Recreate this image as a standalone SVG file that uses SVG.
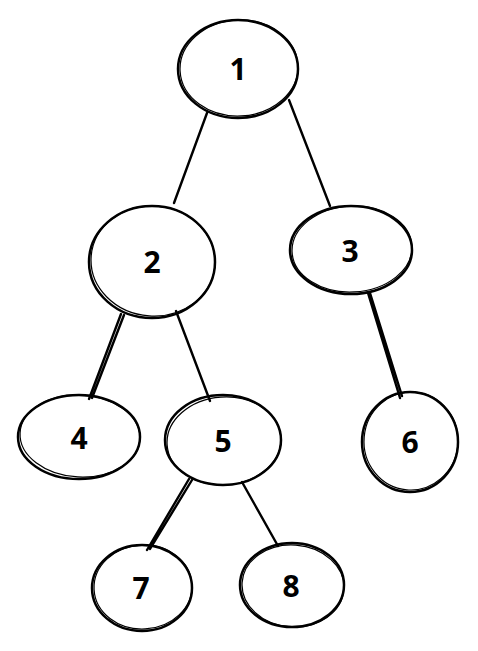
<svg xmlns="http://www.w3.org/2000/svg" width="478" height="651" viewBox="0 0 478 651">
<style>
.n{fill:none;stroke:#000;stroke-width:2.5}
.n2{fill:none;stroke:#000;stroke-width:1.2}
.e{stroke:#000;stroke-width:2.4;fill:none;stroke-linecap:round}
.t{font-family:"Open Sans","Liberation Sans",sans-serif;font-weight:bold;font-size:30px;text-anchor:middle;fill:#000}
</style>
<rect width="478" height="651" fill="#fff"/>
<g id="connectors">
<path class="e" d="M207,113 L174,203"/>
<path class="e" d="M289,100 L330,206"/>
<path class="e" d="M121,314 L89,399 M124,315 L92,398"/>
<path class="e" d="M176,311 L210,401"/>
<path class="e" d="M368,293 L400,398 M370,293 L402,396"/>
<path class="e" d="M189,479 L147,550 M192,480 L150,549"/>
<path class="e" d="M242,482 L278,546"/>
</g>
<g id="node1"><ellipse class="n" cx="238" cy="69" rx="60" ry="49"/><ellipse class="n2" cx="239" cy="68" rx="59" ry="48" transform="rotate(-3 239 68)"/><text class="t" x="238" y="80">1</text></g>
<g id="node2"><ellipse class="n" cx="152" cy="262" rx="63" ry="56"/><ellipse class="n2" cx="153" cy="261" rx="62" ry="55" transform="rotate(4 153 261)"/><text class="t" x="152" y="273">2</text></g>
<g id="node3"><ellipse class="n" cx="351" cy="250" rx="61" ry="44"/><ellipse class="n2" cx="352" cy="249" rx="60" ry="43" transform="rotate(-3 352 249)"/><text class="t" x="350" y="262">3</text></g>
<g id="node4"><ellipse class="n" cx="79" cy="437" rx="61" ry="42"/><ellipse class="n2" cx="80" cy="436" rx="60" ry="41" transform="rotate(3 80 436)"/><text class="t" x="79" y="449">4</text></g>
<g id="node5"><ellipse class="n" cx="223" cy="440" rx="58" ry="45"/><ellipse class="n2" cx="224" cy="441" rx="57" ry="44" transform="rotate(-4 224 441)"/><text class="t" x="223" y="452">5</text></g>
<g id="node6"><ellipse class="n" cx="410" cy="442" rx="48" ry="50"/><ellipse class="n2" cx="411" cy="441" rx="47" ry="49" transform="rotate(5 411 441)"/><text class="t" x="410" y="453">6</text></g>
<g id="node7"><ellipse class="n" cx="142" cy="588" rx="50" ry="43"/><ellipse class="n2" cx="143" cy="587" rx="49" ry="42" transform="rotate(-3 143 587)"/><text class="t" x="141" y="599">7</text></g>
<g id="node8"><ellipse class="n" cx="292" cy="585" rx="52" ry="42"/><ellipse class="n2" cx="293" cy="586" rx="51" ry="41" transform="rotate(4 293 586)"/><text class="t" x="291" y="597">8</text></g>
</svg>
